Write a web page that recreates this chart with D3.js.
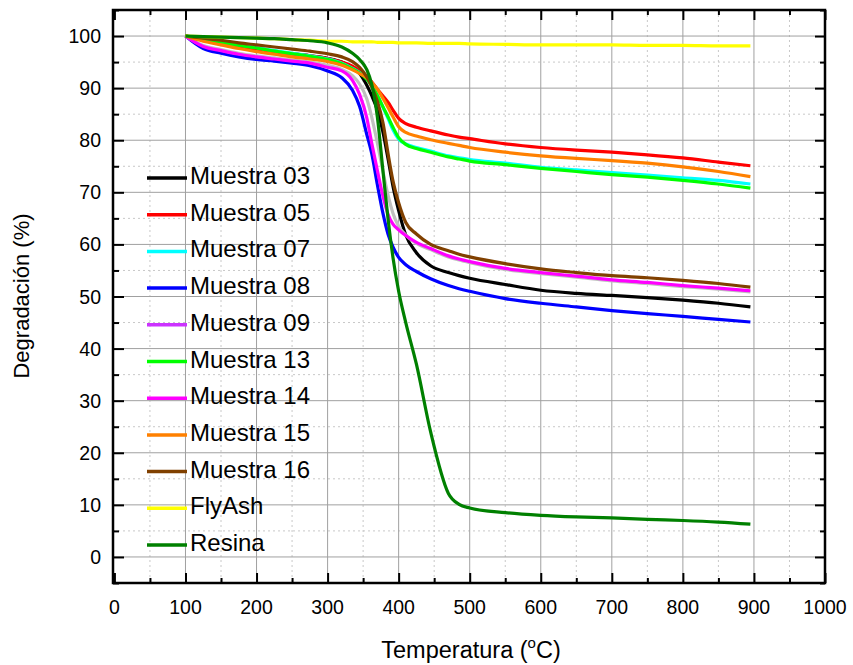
<!DOCTYPE html>
<html><head><meta charset="utf-8">
<script src="https://cdnjs.cloudflare.com/ajax/libs/d3/7.8.5/d3.min.js"></script>
<style>body{margin:0;background:#fff}svg{display:block}text{font-family:"Liberation Sans",Arial,sans-serif;fill:#000}</style>
</head><body><svg id="c" width="853" height="665"></svg>
<script>
// Temperature grid (°C)
const temps = [100,125,150,175,200,225,250,275,300,320,335,345,355,362,370,378,385,392,400,410,425,445,470,485,500,550,600,650,700,750,800,850,895];
const m03 = [100,99.3,98.6,98.0,97.4,97.0,96.6,96.2,95.7,95.0,94.0,92.8,90.6,88.6,85.8,81.5,76.5,71.2,66.5,61.8,58.4,55.9,54.6,54.0,53.5,52.3,51.2,50.6,50.2,49.8,49.3,48.7,48.0];
const m05 = [100,99.3,98.6,98.0,97.4,97.0,96.6,96.2,95.7,95.0,94.2,93.3,92.2,91.2,89.8,88.5,87.3,85.8,84.2,83.2,82.5,81.8,81.0,80.6,80.3,79.3,78.6,78.1,77.7,77.2,76.6,75.8,75.1];
const m07 = [100,99.5,98.9,98.3,97.8,97.2,96.7,96.2,95.6,94.8,93.8,93.0,91.8,90.6,88.7,86.3,84.2,82.0,80.2,79.3,78.6,77.9,77.0,76.6,76.3,75.6,74.8,74.3,73.8,73.3,72.8,72.3,71.6];
const m08 = [100,97.6,96.7,96.0,95.5,95.2,94.8,94.3,93.3,92.0,89.6,86.5,81.2,77.5,71.5,65.9,62.0,59.5,57.5,56.1,54.8,53.4,52.1,51.5,51.0,49.6,48.7,48.0,47.3,46.7,46.2,45.6,45.1];
const m09 = [100,98.2,97.4,96.7,96.2,95.8,95.4,95.0,94.4,93.6,92.4,90.8,88.0,84.5,79.5,74.0,69.5,66.0,63.5,61.8,60.2,59.0,57.6,57.0,56.5,55.2,54.4,53.7,53.0,52.5,51.9,51.4,50.9];
const m13 = [100,99.4,98.8,98.2,97.7,97.1,96.6,96.1,95.5,94.7,93.7,92.9,91.7,90.5,88.6,86.4,84.5,82.5,80.5,79.2,78.4,77.7,76.8,76.4,76.0,75.3,74.6,74.0,73.4,72.9,72.3,71.6,70.8];
const m14 = [100,98.0,97.2,96.5,96.0,95.6,95.2,94.8,94.0,93.3,91.5,88.8,84.4,79.5,74.2,69.2,65.8,63.9,62.8,61.7,60.4,59.2,57.8,57.2,56.7,55.4,54.6,53.9,53.2,52.7,52.1,51.6,51.1];
const m15 = [100,99.0,98.3,97.6,97.0,96.5,96.0,95.6,95.1,94.4,93.5,92.8,92.0,91.1,89.8,88.0,86.3,84.5,82.6,81.5,80.8,80.1,79.4,79.0,78.6,77.7,77.0,76.5,76.1,75.6,74.9,74.0,73.0];
const m16 = [100,99.6,99.2,98.7,98.3,97.9,97.5,97.1,96.6,96.0,95.1,94.0,92.2,90.3,87.5,83.3,77.5,72.2,68.0,64.2,62.0,60.0,58.8,58.1,57.6,56.3,55.3,54.6,54.0,53.6,53.1,52.5,51.8];
const flyAsh = [100,99.9,99.8,99.7,99.6,99.5,99.3,99.2,99.0,99.0,98.9,98.9,98.9,98.9,98.8,98.8,98.8,98.8,98.7,98.7,98.7,98.6,98.6,98.6,98.5,98.4,98.3,98.3,98.3,98.2,98.2,98.1,98.1];
const resina = [100,99.9,99.8,99.7,99.6,99.5,99.3,99.1,98.7,97.9,96.7,95.5,93.6,90.8,84.5,74.0,65.0,57.5,51.0,45.0,37.0,24.0,12.2,10.1,9.4,8.5,8.0,7.7,7.5,7.2,7.0,6.7,6.3];

const seriesNames = ["Muestra 03","Muestra 05","Muestra 07","Muestra 08","Muestra 09","Muestra 13","Muestra 14","Muestra 15","Muestra 16","FlyAsh","Resina"];
const seriesValues = [m03,m05,m07,m08,m09,m13,m14,m15,m16,flyAsh,resina];
const lineColors = ["#000000","#ff0000","#00ffff","#0000ff","#c0c0c0","#00ff00","#ff00ff","#ff8000","#804000","#ffff00","#008000"];
const legendColors = ["#000000","#ff0000","#00ffff","#0000ff","#cc33ff","#00ff00","#ff00ff","#ff8000","#804000","#ffff00","#008000"];
const xTicks = [0,100,200,300,400,500,600,700,800,900,1000];
const yTicks = [0,10,20,30,40,50,60,70,80,90,100];
const xMinor = [50,150,250,350,450,550,650,750,850,950];
const yMinor = [-5,5,15,25,35,45,55,65,75,85,95,105];

const svg = d3.select("#c");
svg.append("rect").attr("width",853).attr("height",665).attr("fill","#fff");
const L=113, R=825, T=10, B=583;
const x = d3.scaleLinear().domain([-2,1000]).range([L,R]);
const y = d3.scaleLinear().domain([-5,105]).range([B,T]);

// grid
const g = svg.append("g");
g.selectAll(".gxm").data(xMinor).join("line").attr("x1",d=>x(d)).attr("x2",d=>x(d)).attr("y1",T).attr("y2",B)
 .attr("stroke","#c8c8c8").attr("stroke-width",1).attr("stroke-dasharray","2,3");
g.selectAll(".gym").data(yMinor.filter(d=>d>-5&&d<105)).join("line").attr("y1",d=>y(d)).attr("y2",d=>y(d)).attr("x1",L).attr("x2",R)
 .attr("stroke","#c8c8c8").attr("stroke-width",1).attr("stroke-dasharray","2,3");
g.selectAll(".gx").data(xTicks.filter(d=>d>0&&d<1000)).join("line").attr("x1",d=>x(d)).attr("x2",d=>x(d)).attr("y1",T).attr("y2",B)
 .attr("stroke","#a0a0a0").attr("stroke-width",1);
g.selectAll(".gy").data(yTicks).join("line").attr("y1",d=>y(d)).attr("y2",d=>y(d)).attr("x1",L).attr("x2",R)
 .attr("stroke","#a0a0a0").attr("stroke-width",1);

// lines
const line = d3.line().x((d,i)=>x(temps[i])).y(d=>y(d)).curve(d3.curveMonotoneX);
svg.append("g").selectAll("path").data(seriesValues).join("path")
 .attr("d",d=>line(d)).attr("fill","none").attr("stroke",(d,i)=>lineColors[i]).attr("stroke-width",3.2)
 .attr("stroke-linejoin","round");

// axes (ticks inward)
const ax = svg.append("g");
ax.append("g").attr("transform",`translate(0,${B})`).call(d3.axisBottom(x).tickValues(xTicks).tickSize(-10).tickFormat(""));
ax.append("g").attr("transform",`translate(0,${B})`).call(d3.axisBottom(x).tickValues(xMinor).tickSize(-5).tickFormat(""));
ax.append("g").attr("transform",`translate(0,${T})`).call(d3.axisTop(x).tickValues(xTicks).tickSize(-10).tickFormat(""));
ax.append("g").attr("transform",`translate(0,${T})`).call(d3.axisTop(x).tickValues(xMinor).tickSize(-5).tickFormat(""));
ax.append("g").attr("transform",`translate(${L},0)`).call(d3.axisLeft(y).tickValues(yTicks).tickSize(-11).tickFormat(""));
ax.append("g").attr("transform",`translate(${L},0)`).call(d3.axisLeft(y).tickValues(yMinor).tickSize(-6).tickFormat(""));
ax.append("g").attr("transform",`translate(${R},0)`).call(d3.axisRight(y).tickValues(yTicks).tickSize(-10).tickFormat(""));
ax.append("g").attr("transform",`translate(${R},0)`).call(d3.axisRight(y).tickValues(yMinor).tickSize(-5).tickFormat(""));
ax.selectAll(".domain").remove();
ax.selectAll(".tick line").attr("stroke","#000").attr("stroke-width",2);
svg.append("rect").attr("x",L).attr("y",T).attr("width",R-L).attr("height",B-T).attr("fill","none").attr("stroke","#000").attr("stroke-width",2.5);

// tick labels
svg.append("g").selectAll("text").data(xTicks).join("text").attr("x",d=>x(d)).attr("y",614)
 .attr("text-anchor","middle").attr("font-size",19.5).text(d=>d);
svg.append("g").selectAll("text").data(yTicks).join("text").attr("x",101).attr("y",d=>y(d)+7)
 .attr("text-anchor","end").attr("font-size",19.5).text(d=>d);

// axis titles
const xt = svg.append("text").attr("x",471).attr("y",658).attr("text-anchor","middle").attr("font-size",23.5);
xt.append("tspan").text("Temperatura (");
xt.append("tspan").attr("font-size",15).attr("dy",-10).text("o");
xt.append("tspan").attr("dy",10).text("C)");
svg.append("text").attr("transform","translate(29,296) rotate(-90)").attr("text-anchor","middle").attr("font-size",22).text("Degradación (%)");

// legend
const lg = svg.append("g");
seriesNames.forEach((n,i)=>{
  const cy = 176 + i*36.7;
  lg.append("line").attr("x1",147).attr("x2",187).attr("y1",cy+2).attr("y2",cy+2).attr("stroke",legendColors[i]).attr("stroke-width",3.5);
  lg.append("text").attr("x",190).attr("y",cy+8).attr("font-size",24).text(n);
});
</script></body></html>
